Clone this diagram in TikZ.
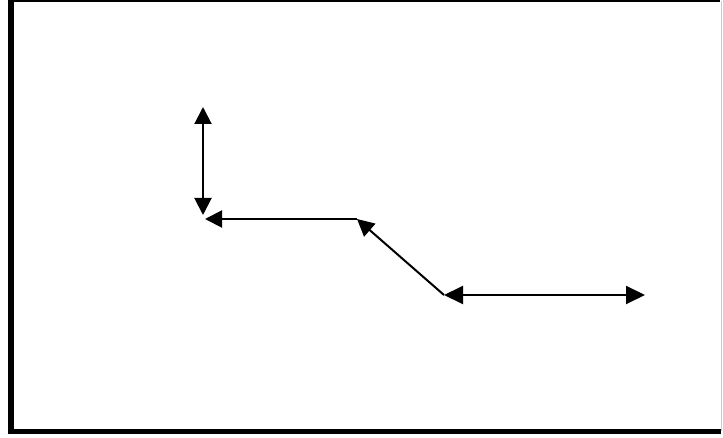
\documentclass[tikz,border=0pt]{standalone}
\usetikzlibrary{arrows.meta}
\begin{document}
\begin{tikzpicture}[x=1pt,y=-1pt,
  conn/.style={line width=2pt,line cap=butt},
  tipa/.tip={Triangle[length=17pt,width=17pt]},
  tipb/.tip={Triangle[length=19pt,width=18pt]}]
\useasboundingbox (0,0) rectangle (723,438);
\fill[white] (0,0) rectangle (723,438);
% frame
\draw[line width=2pt] (11,1.5) -- (720,1.5);
\draw[line width=0.8pt,black!20] (721,1.5) -- (721,431);
\draw[line width=6.5pt] (11,0) -- (11,434);
\draw[line width=5pt] (8,431.5) -- (721,431.5);
% points
\coordinate (vt) at (203,107);
\coordinate (vb) at (203,215);
\coordinate (hl) at (205,219);
\coordinate (hr) at (357,219);
\coordinate (bl) at (444,295);
\coordinate (br) at (645,295);
\draw[conn,{tipa}-{tipa}] (vt) -- (vb);
\draw[conn,-{tipa}] (hr) -- (hl);
\draw[conn,-{tipa}] (bl) -- (hr);
\draw[conn,{tipb}-{tipb}] (bl) -- (br);
\end{tikzpicture}
\end{document}
